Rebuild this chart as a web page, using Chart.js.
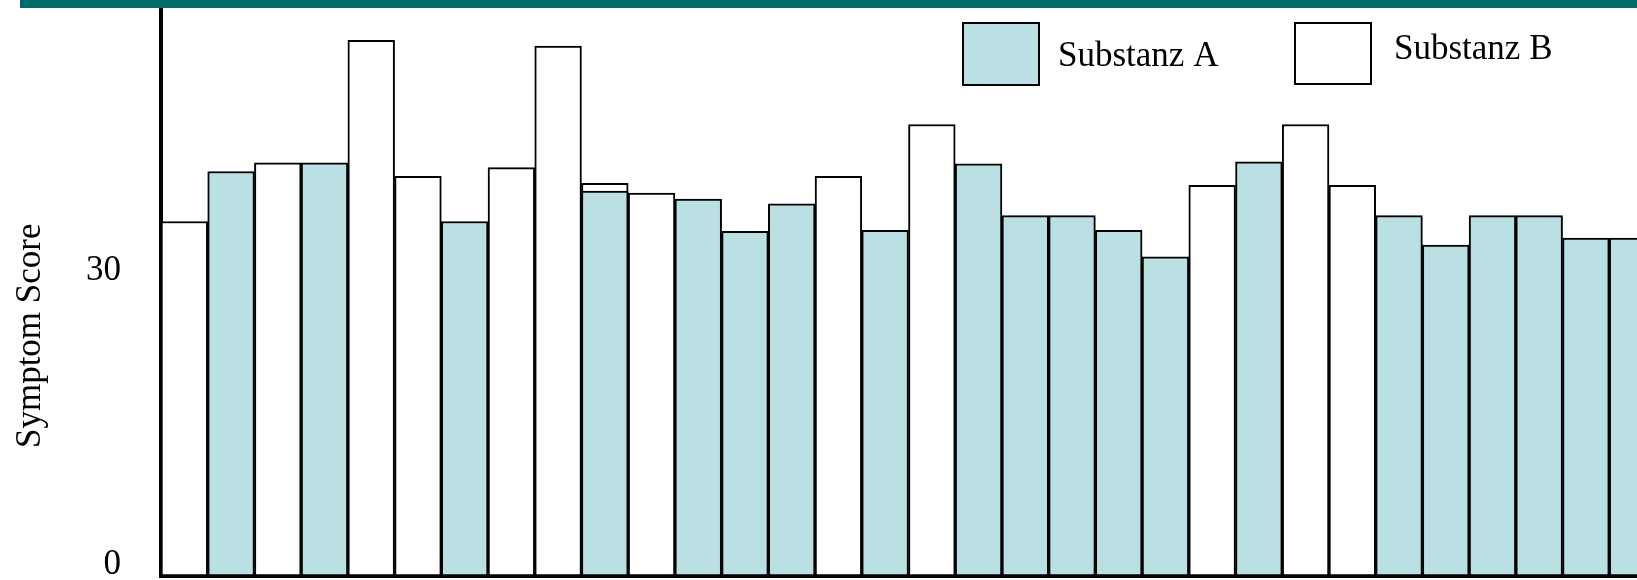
<!DOCTYPE html>
<html>
<head>
<meta charset="utf-8">
<script src="https://cdn.jsdelivr.net/npm/chart.js@4.4.0/dist/chart.umd.min.js"></script>
<style>
  html, body { margin: 0; padding: 0; background: #fff; overflow: hidden; }
  #wrap { position: relative; width: 1637px; height: 580px; overflow: hidden; }
  #band { position: absolute; left: 20px; top: 0; width: 1617px; height: 8px; background: #006a6a; z-index: 2; }
  canvas { position: absolute; left: 0; top: 0; }
</style>
</head>
<body>
<div id="wrap">
  <div id="band"></div>
  <!-- plot runs a little past the right edge, last bar is cut like in the slide -->
  <canvas id="scoreChart" width="1656" height="580"></canvas>
</div>
<script>
const labels = ['1', '2', '3', '4', '5', '6', '7', '8', '9', '10', '11', '12', '13', '14', '15', '16',
  '17', '18', '19', '20', '21', '22', '23', '24', '25', '26', '27', '28', '29', '30', '31', '32'];
const substanzA = [null, 41.3, null, 42.2, null, null, 36.2, null, null, 39.3, null, 38.5, 35.2, 38.0, null, 35.3,
  null, 42.1, 36.8, 36.8, 35.3, 32.6, null, 42.3, null, null, 36.8, 33.8, 36.8, 36.8, 34.5, 34.5];
const substanzB = [36.2, null, 42.2, null, 54.7, 40.8, null, 41.7, 54.1, 40.1, 39.1, null, null, null, 40.8, null,
  46.1, null, null, null, null, null, 39.9, null, 46.1, 39.9, null, null, null, null, null, null];
const yTicks = [0, 30];

const tealFill = '#bbe0e3';
const serif = '"Liberation Serif", "DejaVu Serif", serif';

// legend drawn by hand, boxes sit inside the plot like in the slide
const boxLegend = {
  id: 'boxLegend',
  afterDraw(chart, args, opts) {
    const ctx = chart.ctx;
    ctx.save();
    chart.data.datasets.forEach((ds, i) => {
      const p = opts.items[i];
      ctx.fillStyle = ds.backgroundColor;
      ctx.fillRect(p.x, p.y, p.w, p.h);
      ctx.lineWidth = 2;
      ctx.strokeStyle = '#000';
      ctx.strokeRect(p.x, p.y, p.w, p.h);
      ctx.fillStyle = '#000';
      ctx.font = '35px ' + serif;
      ctx.textBaseline = 'middle';
      ctx.fillText(ds.label, p.tx, p.ty);
    });
    ctx.restore();
  }
};

const config = {
  type: 'bar',
  data: {
    labels: labels,
    datasets: [
      { label: 'Substanz A', data: substanzA, backgroundColor: tealFill, borderColor: '#000', borderWidth: 2 },
      { label: 'Substanz B', data: substanzB, backgroundColor: '#ffffff', borderColor: '#000', borderWidth: 2 }
    ]
  },
  options: {
    responsive: false,
    animation: false,
    layout: { padding: { top: 8, right: 0, bottom: 0, left: 0 } },
    datasets: {
      bar: { grouped: false, categoryPercentage: 1, barPercentage: 1, borderSkipped: false }
    },
    scales: {
      x: {
        grid: { display: false },
        ticks: { display: false },
        border: { color: '#000', width: 4 },
        afterFit: (scale) => { scale.height = 4; }
      },
      y: {
        min: 0,
        max: 58,
        grid: { display: false, drawTicks: false },
        border: { color: '#000', width: 4 },
        ticks: { color: '#000', font: { family: serif, size: 35 }, padding: 40, labelOffset: -11 },
        afterBuildTicks: (scale) => { scale.ticks = yTicks.map(v => ({ value: v })); },
        afterFit: (scale) => {
          scale.width = 161;
          scale.paddingTop = 0;
          scale.paddingBottom = 0;
        },
        title: {
          display: true,
          // trailing spaces push the rotated text a bit lower, as in the original
          text: 'Symptom Score' + '\u00a0'.repeat(10),
          color: '#000',
          font: { family: serif, size: 35 },
          padding: { top: 10, bottom: 0 }
        }
      }
    },
    plugins: {
      legend: { display: false },
      tooltip: { enabled: false },
      boxLegend: {
        items: [
          { x: 963, y: 23, w: 76, h: 62, tx: 1058, ty: 57 },
          { x: 1295, y: 23, w: 76, h: 61, tx: 1394, ty: 50 }
        ]
      }
    }
  },
  plugins: [boxLegend]
};

window.onload = function() {
  const ctx = document.getElementById('scoreChart').getContext('2d');
  new Chart(ctx, config);
};
</script>
</body>
</html>
